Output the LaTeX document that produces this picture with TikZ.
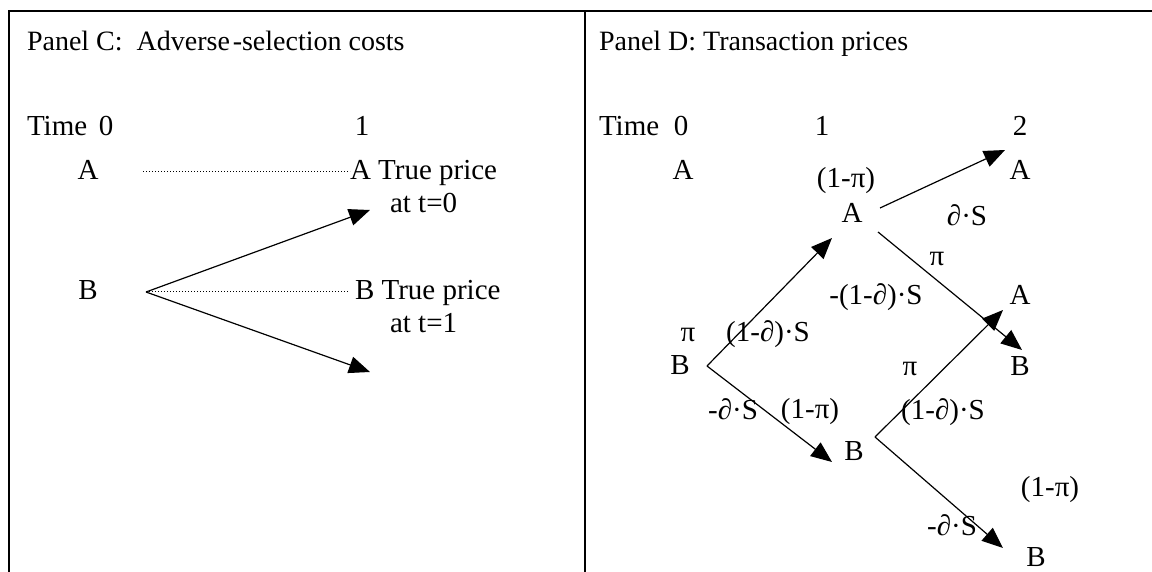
\documentclass[tikz,border=0pt]{standalone}
\usepackage{fontspec}
\setmainfont{Liberation Serif}
\usetikzlibrary{arrows.meta}
\begin{document}
\begin{tikzpicture}[x=0.5pt,y=-0.5pt,
  txt/.style={inner sep=0pt,outer sep=0pt,anchor=base,font=\fontsize{14.5}{17}\selectfont},
  txtw/.style={txt,anchor=base west},
  ttl/.style={txtw,font=\fontsize{14}{17}\selectfont},
  frame/.style={line width=1pt},
  arr/.style={line width=0.6pt,-{Triangle[length=10.5pt,width=8.5pt]}},
  dots/.style={line width=0.5pt,dash pattern=on 0.6pt off 0.9pt}]
\useasboundingbox (0,0) rectangle (1152,572);
% frame
\draw[frame] (9,572) -- (9,11) -- (1152,11);
\draw[frame] (585,11) -- (585,572);

% ---------- Panel C ----------
\node[ttl] (tc) at (27,51) {Panel C:\ \ Adverse\hspace{0.1em}-selection costs};
\node[txtw] (timeC) at (27,136) {Time};
\node[txt] (c0) at (106,136) {0};
\node[txt] (c1) at (362,136) {1};
\node[txt] (cA) at (88,180) {A};
\node[txtw] (cA1) at (350,180) {A True price};
\node[txtw] (cat0) at (390,213) {at t=0};
\node[txt] (cB) at (88,300) {B};
\node[txtw] (cB1) at (355,300) {B True price};
\node[txtw] (cat1) at (390,333) {at t=1};
\coordinate (cAs) at (143,172);
\coordinate (cBs) at (146,292);
\coordinate (cup) at (370,210);
\coordinate (cdn) at (370,372);
\draw[dots] (cAs) -- (cA1.base west |- cAs);
\draw[dots] (cBs) -- ([xshift=-3]cB1.base west |- cBs);
\draw[arr] (cBs) -- (cup);
\draw[arr] (cBs) -- (cdn);

% ---------- Panel D ----------
\node[ttl] (td) at (599,51) {Panel D: Transaction prices};
\node[txtw] (timeD) at (599,136) {Time};
\node[txt] (d0) at (681,136) {0};
\node[txt] (d1) at (822,136) {1};
\node[txt] (d2) at (1020,136) {2};
\node[txt] (A0) at (683,180) {A};
\node[txt] (A2t) at (1020,180) {A};
\node[txt] (p1) at (846,188) {(1-π)};
\node[txt] (A1) at (852,223) {A};
\node[txt] (l1) at (967,226) {∂·S};
\node[txt] (p2) at (937,266) {π};
\node[txt] (l2) at (876,305) {-(1-∂)·S};
\node[txt] (A2m) at (1020,305) {A};
\node[txt] (p3) at (688,342) {π};
\node[txt] (l3) at (768,342) {(1-∂)·S};
\node[txt] (B0) at (680,375) {B};
\node[txt] (B2m) at (1020,376) {B};
\node[txt] (p4) at (910,376) {π};
\node[txt] (l4) at (733,420) {-∂·S};
\node[txt] (p5) at (810,418) {(1-π)};
\node[txt] (l5) at (943,420) {(1-∂)·S};
\node[txt] (B1) at (854,460) {B};
\node[txt] (p6) at (1050,496) {(1-π)};
\node[txt] (l6) at (952,535) {-∂·S};
\node[txt] (B2b) at (1036,566) {B};

\coordinate (a1s) at (880,208);
\coordinate (a1d) at (878,232);
\coordinate (b0s) at (707,366);
\coordinate (b1s) at (875,437);
\coordinate (tA2t) at (1005,150);
\coordinate (tB2m) at (1022,350);
\coordinate (tA1) at (832,238);
\coordinate (tB1) at (832,462);
\coordinate (tA2m) at (1003,310);
\coordinate (tB2b) at (1003,548);
\draw[arr] (a1s) -- (tA2t);
\draw[arr] (a1d) -- (tB2m);
\draw[arr] (b0s) -- (tA1);
\draw[arr] (b0s) -- (tB1);
\draw[arr] (b1s) -- (tA2m);
\draw[arr] (b1s) -- (tB2b);
\end{tikzpicture}
\end{document}
